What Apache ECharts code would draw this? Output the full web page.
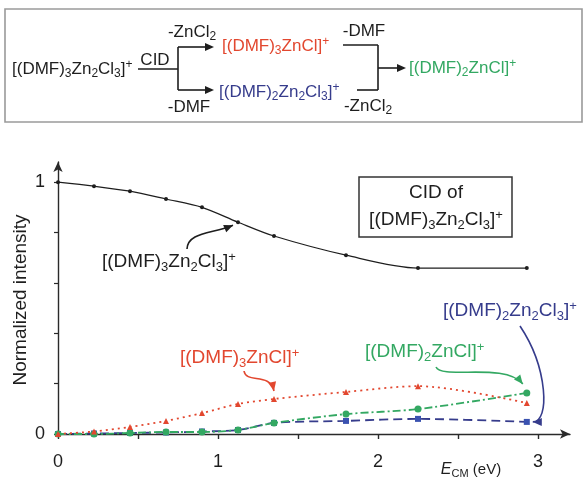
<!DOCTYPE html>
<html>
<head>
<meta charset="utf-8">
<script src="https://cdn.jsdelivr.net/npm/echarts@6/dist/echarts.min.js"></script>
<style>
  html, body { margin: 0; padding: 0; background: #fff; }
  #chart { width: 587px; height: 478px; }
</style>
</head>
<body>
<div id="chart"></div>
<script>
// collision energy (eV) and normalized intensities
const energy = [0, 0.225, 0.45, 0.675, 0.9, 1.125, 1.35, 1.8, 2.25, 2.93];
const parentIon = [1.0, 0.984, 0.964, 0.933, 0.9, 0.841, 0.786, 0.71, 0.659, 0.659];
const dmf3ZnCl = [0, 0.01, 0.028, 0.052, 0.083, 0.119, 0.139, 0.167, 0.19, 0.123];
const dmf2ZnCl = [0, 0, 0.004, 0.008, 0.008, 0.016, 0.044, 0.079, 0.099, 0.163];
const dmf2Zn2Cl3 = [0, 0.002, 0.004, 0.006, 0.01, 0.016, 0.044, 0.052, 0.06, 0.048];
const xTicks = [0, 0.5, 1, 1.5, 2, 2.5, 3];
const xLabels = [0, 1, 2, 3];
const yTicks = [0, 0.2, 0.4, 0.6, 0.8, 1];
const yLabels = [0, 1];

const FONT = '"Liberation Sans", Arial, sans-serif';
const RED = "#e2472f";
const GREEN = "#33a862";
const BLUE = "#363c8c";
const INK = "#1e1e1e";

const chart = echarts.init(document.getElementById("chart"));

const pts = (ys) => energy.map((x, i) => [x, ys[i]]);

chart.setOption({
  animation: false,
  backgroundColor: "#fff",
  grid: { left: 58, right: 17, top: 162, bottom: 44 },
  xAxis: {
    type: "value",
    min: 0,
    max: 3.2,
    axisLine: {
      show: true,
      symbol: ["none", "arrow"],
      symbolSize: [7, 10],
      lineStyle: { color: "#2a2a2a", width: 1.4 },
    },
    axisTick: { show: true, customValues: xTicks, length: 5, lineStyle: { color: "#2a2a2a", width: 1.4 } },
    axisLabel: {
      customValues: xLabels,
      margin: 19,
      fontSize: 18,
      fontFamily: FONT,
      color: INK,
    },
    splitLine: { show: false },
  },
  yAxis: {
    type: "value",
    min: 0,
    max: 1.08,
    axisLine: {
      show: true,
      symbol: ["none", "arrow"],
      symbolSize: [7, 10],
      lineStyle: { color: "#2a2a2a", width: 1.4 },
    },
    axisTick: { show: true, customValues: yTicks, length: 4, lineStyle: { color: "#2a2a2a", width: 1.2 } },
    axisLabel: {
      customValues: yLabels,
      margin: 13,
      fontSize: 18,
      fontFamily: FONT,
      color: INK,
    },
    splitLine: { show: false },
  },
  series: [
    {
      name: "[(DMF)2Zn2Cl3]+",
      type: "line",
      data: pts(dmf2Zn2Cl3),
      smooth: 0.3,
      symbol: "rect",
      symbolSize: 6,
      lineStyle: { color: BLUE, width: 1.8, type: [9, 5] },
      itemStyle: { color: "#3a52b0" },
      z: 2,
    },
    {
      name: "[(DMF)2ZnCl]+",
      type: "line",
      data: pts(dmf2ZnCl),
      smooth: 0.3,
      symbol: "circle",
      symbolSize: 7,
      lineStyle: { color: GREEN, width: 1.8, type: [8, 3, 2, 3] },
      itemStyle: { color: GREEN },
      z: 3,
    },
    {
      name: "[(DMF)3ZnCl]+",
      type: "line",
      data: pts(dmf3ZnCl),
      smooth: 0.3,
      symbol: "triangle",
      symbolSize: 6,
      lineStyle: { color: RED, width: 1.8, type: [2, 4] },
      itemStyle: { color: RED },
      z: 4,
    },
    {
      name: "[(DMF)3Zn2Cl3]+",
      type: "line",
      data: pts(parentIon),
      smooth: 0.3,
      symbol: "circle",
      symbolSize: 4,
      lineStyle: { color: INK, width: 1.2 },
      itemStyle: { color: INK },
      z: 5,
    },
  ],
});

// chemical formula as rich text: _x subscript, ^x superscript
function chem(s) {
  return s.replace(/_(\w)/g, "{sub|$1}").replace(/\^(.)/g, "{sup|$1}");
}
function formula(s, x, y, color, align, size) {
  size = size || 19;
  const small = Math.round(size * 0.7);
  return {
    type: "text",
    x: x,
    y: y,
    style: {
      text: chem(s),
      fill: color,
      fontSize: size,
      fontFamily: FONT,
      align: align || "left",
      verticalAlign: "middle",
      rich: {
        sub: { fontSize: small, fontFamily: FONT, fill: color, padding: [Math.round(size * 0.55), 0, 0, 0] },
        sup: { fontSize: small, fontFamily: FONT, fill: color, padding: [0, 0, Math.round(size * 0.55), 0] },
      },
    },
  };
}
function line(x1, y1, x2, y2) {
  return { type: "line", shape: { x1, y1, x2, y2 }, style: { stroke: INK, lineWidth: 1.6 } };
}
function head(tip, from, color, len, w) {
  len = len || 8;
  w = w || 3.5;
  const dx = tip[0] - from[0], dy = tip[1] - from[1];
  const d = Math.hypot(dx, dy), ux = dx / d, uy = dy / d;
  const bx = tip[0] - ux * len, by = tip[1] - uy * len;
  return {
    type: "polygon",
    shape: { points: [tip, [bx - uy * w, by + ux * w], [bx + uy * w, by - ux * w]] },
    style: { fill: color },
  };
}
function curvedArrow(start, cp1, cp2, tip, color) {
  return [
    {
      type: "bezierCurve",
      shape: { x1: start[0], y1: start[1], cpx1: cp1[0], cpy1: cp1[1], cpx2: cp2[0], cpy2: cp2[1], x2: tip[0], y2: tip[1] },
      style: { stroke: color, lineWidth: 1.6, fill: null },
    },
    head(tip, cp2, color, 9, 4),
  ];
}
const px = (series, i) => chart.convertToPixel({ seriesIndex: 0 }, [energy[i], series[i]]);

// arrow tips sit next to the data points they point at
const pBlack = px(parentIon, 5);
const pRed = px(dmf3ZnCl, 6);
const pGreen = px(dmf2ZnCl, 9);
const pBlue = px(dmf2Zn2Cl3, 9);
const tipBlack = [pBlack[0] - 5, pBlack[1] + 3];
const tipRed = [pRed[0], pRed[1] - 8];
const tipGreen = [pGreen[0] - 4, pGreen[1] - 9];
const tipBlue = [pBlue[0] + 6, pBlue[1]];

const txt = (s, x, y, size, align) => ({
  type: "text",
  x: x,
  y: y,
  style: { text: s, fill: INK, fontSize: size, fontFamily: FONT, align: align || "center", verticalAlign: "middle" },
});

const graphic = [
  // reaction scheme
  { type: "rect", shape: { x: 5, y: 9, width: 577, height: 113 }, style: { fill: null, stroke: "#9a9a9a", lineWidth: 1.6 } },
  formula("[(DMF)_3Zn_2Cl_3]^+", 12, 69, INK, "left", 17),
  txt("CID", 155, 60, 17),
  line(138, 69, 178, 69),
  line(178, 47, 178, 90),
  line(178, 47, 206, 47),
  head([214, 47], [178, 47], INK, 9, 4),
  line(178, 90, 206, 90),
  head([214, 90], [178, 90], INK, 9, 4),
  formula("-ZnCl_2", 192, 32, INK, "center", 17),
  formula("-DMF", 189, 107, INK, "center", 17),
  formula("[(DMF)_3ZnCl]^+", 222, 46, RED, "left", 17),
  formula("[(DMF)_2Zn_2Cl_3]^+", 219, 92, BLUE, "left", 17),
  txt("-DMF", 364, 31, 17),
  line(343, 45, 378, 45),
  line(378, 45, 378, 90),
  line(357, 90, 378, 90),
  line(378, 68, 398, 68),
  head([406, 68], [378, 68], INK, 9, 4),
  formula("-ZnCl_2", 368, 106, INK, "center", 17),
  formula("[(DMF)_2ZnCl]^+", 409, 68, GREEN, "left", 17),

  // plot annotations
  {
    type: "text",
    x: 21,
    y: 300,
    rotation: Math.PI / 2,
    style: { text: "Normalized intensity", fill: INK, fontSize: 19, fontFamily: FONT, align: "center", verticalAlign: "middle" },
  },
  {
    type: "text",
    x: 471,
    y: 470,
    style: {
      text: "{it|E}{sub|CM} (eV)",
      fill: INK,
      fontSize: 15,
      fontFamily: FONT,
      align: "center",
      verticalAlign: "middle",
      rich: {
        it: { fontSize: 16, fontStyle: "italic", fontFamily: FONT, fill: INK },
        sub: { fontSize: 11, fontFamily: FONT, fill: INK, padding: [7, 0, 0, 0] },
      },
    },
  },
  { type: "rect", shape: { x: 359, y: 177, width: 153, height: 60 }, style: { fill: "#fff", stroke: "#333", lineWidth: 1.5 } },
  txt("CID of", 436, 193, 19),
  formula("[(DMF)_3Zn_2Cl_3]^+", 436, 220, INK, "center"),

  formula("[(DMF)_3Zn_2Cl_3]^+", 102, 262, INK),
  ...curvedArrow([187, 249], [188, 232], [212, 234], tipBlack, INK),
  formula("[(DMF)_3ZnCl]^+", 180, 358, RED),
  ...curvedArrow([244, 371], [246, 384], [270, 372], tipRed, RED),
  formula("[(DMF)_2ZnCl]^+", 365, 352, GREEN),
  ...curvedArrow([436, 367], [442, 380], [505, 362], tipGreen, GREEN),
  formula("[(DMF)_2Zn_2Cl_3]^+", 443, 311, BLUE),
  ...curvedArrow([520, 326], [548, 368], [550, 422], tipBlue, BLUE),
];

chart.setOption({ graphic: graphic });
</script>
</body>
</html>
